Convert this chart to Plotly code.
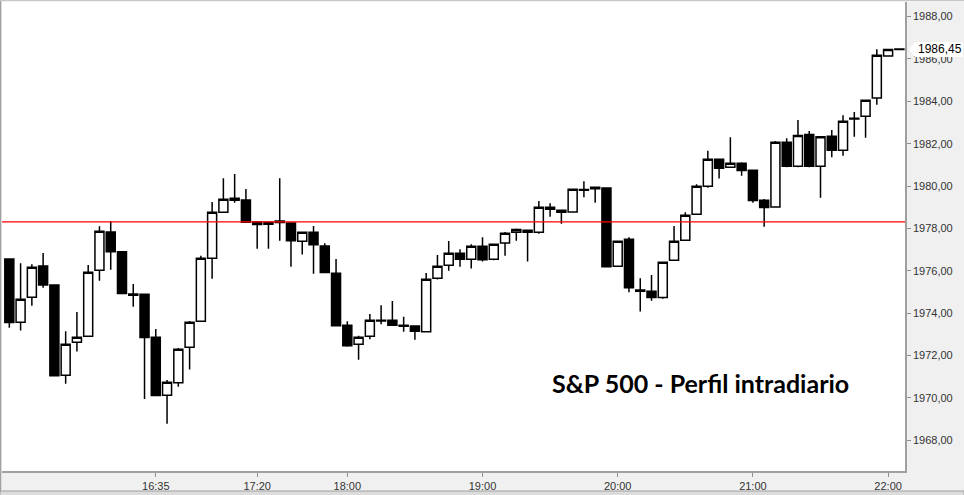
import plotly.graph_objects as go

# ---- data (5-minute bars starting 15:30) ----
start_time = "15:30"
bar_minutes = 5
opens = [1976.55, 1973.56, 1974.75, 1976.22, 1975.33, 1971.06, 1972.62, 1972.90, 1976.02, 1977.83,
         1976.89, 1974.90, 1974.89, 1972.86, 1970.12, 1970.71, 1972.38, 1973.61, 1976.59, 1978.76,
         1979.42, 1979.34, 1978.30, 1978.19, 1978.35, 1978.25, 1977.39, 1977.82, 1977.17, 1975.88,
         1973.42, 1972.53, 1972.90, 1973.66, 1973.66, 1973.42, 1973.39, 1973.12, 1975.64, 1976.26,
         1976.82, 1976.54, 1977.15, 1976.54, 1977.31, 1977.82, 1977.91, 1977.82, 1979.00, 1978.86,
         1978.77, 1979.80, 1979.94, 1979.91, 1976.21, 1977.49, 1975.09, 1975.03, 1974.73, 1976.49,
         1977.44, 1978.67, 1979.99, 1981.26, 1980.89, 1981.07, 1980.74, 1979.33, 1979.01, 1982.07,
         1980.93, 1982.43, 1980.93, 1982.35, 1981.69, 1983.20, 1983.30, 1984.16, 1986.14, 1986.47]
highs = [1976.55, 1976.35, 1976.30, 1976.84, 1975.33, 1973.14, 1974.05, 1976.27, 1978.10, 1978.35,
         1976.93, 1975.37, 1974.89, 1973.25, 1970.84, 1972.35, 1973.63, 1976.70, 1979.25, 1980.37,
         1980.57, 1979.86, 1978.35, 1978.29, 1980.37, 1978.25, 1977.82, 1978.11, 1977.30, 1976.55,
         1973.61, 1972.93, 1973.96, 1974.37, 1974.57, 1973.82, 1973.42, 1975.89, 1976.74, 1977.40,
         1977.01, 1977.25, 1977.58, 1977.25, 1977.83, 1977.99, 1977.91, 1979.29, 1979.19, 1978.86,
         1979.87, 1980.22, 1979.94, 1979.94, 1977.39, 1977.58, 1975.64, 1975.80, 1976.40, 1978.11,
         1978.76, 1980.08, 1981.66, 1981.29, 1982.30, 1981.12, 1980.74, 1979.39, 1982.13, 1982.26,
         1983.12, 1982.60, 1982.33, 1982.65, 1983.34, 1983.50, 1984.05, 1986.46, 1986.45, 1986.47]
lows = [1973.31, 1973.17, 1974.35, 1975.20, 1971.04, 1970.66, 1972.18, 1972.90, 1975.53, 1976.05,
        1974.92, 1974.30, 1969.94, 1970.10, 1968.77, 1970.52, 1971.33, 1973.61, 1975.62, 1978.76,
        1979.21, 1978.29, 1977.04, 1977.04, 1977.42, 1976.19, 1976.76, 1975.86, 1975.91, 1973.36,
        1972.41, 1971.80, 1972.76, 1973.47, 1973.42, 1973.12, 1972.74, 1973.12, 1975.58, 1976.00,
        1976.19, 1976.10, 1976.43, 1976.49, 1976.71, 1977.42, 1976.43, 1977.75, 1978.55, 1978.22,
        1978.77, 1979.47, 1979.21, 1976.19, 1976.21, 1974.98, 1974.07, 1974.58, 1974.68, 1976.49,
        1977.44, 1978.67, 1979.92, 1980.35, 1980.89, 1980.49, 1979.21, 1978.08, 1979.01, 1980.89,
        1980.89, 1980.89, 1979.45, 1981.36, 1981.43, 1982.33, 1982.28, 1983.84, 1986.14, 1986.45]
closes = [1973.55, 1974.65, 1976.16, 1975.33, 1971.04, 1972.53, 1972.86, 1975.93, 1977.86, 1976.90,
          1974.92, 1974.84, 1972.84, 1970.10, 1970.73, 1972.29, 1973.56, 1976.59, 1978.76, 1979.37,
          1979.33, 1978.29, 1978.18, 1978.29, 1978.28, 1977.42, 1977.82, 1977.23, 1975.91, 1973.40,
          1972.46, 1972.86, 1973.66, 1973.62, 1973.42, 1973.38, 1973.14, 1975.60, 1976.21, 1976.82,
          1976.54, 1977.15, 1976.52, 1977.25, 1977.77, 1977.94, 1977.82, 1979.00, 1978.90, 1978.76,
          1979.85, 1979.84, 1979.87, 1976.19, 1977.39, 1975.20, 1975.03, 1974.73, 1976.40, 1977.39,
          1978.62, 1979.99, 1981.26, 1980.84, 1981.07, 1980.73, 1979.31, 1978.98, 1982.07, 1980.93,
          1982.38, 1980.93, 1982.33, 1981.69, 1983.06, 1983.16, 1984.05, 1986.18, 1986.45, 1986.45]
tick_labels = ["16:35", "17:20", "18:00", "19:00", "20:00", "21:00", "22:00"]
y_ticks = [1968, 1970, 1972, 1974, 1976, 1978, 1980, 1982, 1984, 1986, 1988]
ref_level = 1978.31
last_price = 1986.45
title_text = "S&P 500 - Perfil intradiario"


def to_minutes(t):
    h, m = t.split(":")
    return int(h) * 60 + int(m)


x_idx = list(range(len(opens)))
tick_vals = [(to_minutes(t) - to_minutes(start_time)) // bar_minutes for t in tick_labels]

fig = go.Figure()
fig.add_trace(go.Candlestick(
    x=x_idx, open=opens, high=highs, low=lows, close=closes,
    increasing=dict(fillcolor="white", line=dict(color="black", width=1.5)),
    decreasing=dict(fillcolor="black", line=dict(color="black", width=1.5)),
    whiskerwidth=0, hoverinfo="skip", showlegend=False,
))

# reference level
fig.add_shape(type="line", xref="paper", yref="y", x0=0, x1=1, y0=ref_level, y1=ref_level,
              line=dict(color="#ff0000", width=1.2), layer="above")

# plot geometry (px)
W, H = 964, 495
ml, mr, mt, mb = 2, 59, 2, 24
pw = W - ml - mr


def px_to_paper_x(p):
    return (p - ml) / pw


y_lo, y_hi = 1966.54, 1988.69
ph = H - mt - mb


def px_to_y(p):
    return y_hi - (p - mt) / ph * (y_hi - y_lo)


# last price tag
lx0, lx1, lxt = px_to_paper_x(909), px_to_paper_x(963), px_to_paper_x(915)
yt, yb = px_to_y(42), px_to_y(57)
fig.add_shape(type="path", xref="paper", yref="y",
              path=f"M {lx0},{last_price} L {lxt},{yt} L {lx1},{yt} L {lx1},{yb} L {lxt},{yb} Z",
              fillcolor="white", line=dict(width=0), layer="above")
fig.add_annotation(xref="paper", yref="y", x=px_to_paper_x(916), y=last_price, xanchor="left",
                   yanchor="middle", text=f"{last_price:.2f}".replace(".", ","), showarrow=False,
                   font=dict(family="Liberation Sans, Arial", size=12, color="black"))

# title text
fig.add_annotation(xref="paper", yref="y", x=px_to_paper_x(550), y=px_to_y(383), xanchor="left",
                   yanchor="middle", text=title_text, showarrow=False,
                   font=dict(family="Lato", size=25, color="black", weight=700))

# frame lines
fig.add_shape(type="line", xref="paper", yref="paper", x0=px_to_paper_x(0.5), x1=px_to_paper_x(0.5),
              y0=-0.2, y1=1.1, line=dict(color="#a0a0a0", width=1.5), layer="above")
fig.add_shape(type="line", xref="paper", yref="paper", x0=px_to_paper_x(0), x1=px_to_paper_x(964),
              y0=1 + 1.5 / ph, y1=1 + 1.5 / ph, line=dict(color="#c8c8c8", width=1), layer="above")
fig.add_shape(type="rect", xref="paper", yref="paper", x0=px_to_paper_x(0), x1=px_to_paper_x(964),
              y0=-(491 - (H - mb)) / ph, y1=-(496 - (H - mb)) / ph,
              fillcolor="#dcdcdc", line=dict(color="#a0a0a0", width=1), layer="above")

fig.update_layout(
    width=W, height=H,
    margin=dict(l=ml, r=mr, t=mt, b=mb, pad=0),
    paper_bgcolor="#f0f0f0", plot_bgcolor="white",
    separators=",.",
    boxgap=0.2, boxgroupgap=0,
    showlegend=False,
    font=dict(family="Liberation Sans, Arial", size=11, color="#333333"),
    xaxis=dict(range=[-0.65, 79.5], tickvals=tick_vals, ticktext=tick_labels,
               showgrid=False, zeroline=False, rangeslider=dict(visible=False),
               ticks="outside", ticklen=4, tickcolor="#909090",
               showline=True, linecolor="#a0a0a0", linewidth=1.5,
               tickfont=dict(size=11, color="#333333")),
    yaxis=dict(range=[y_lo, y_hi], side="right", tickvals=y_ticks, tickformat=".2f",
               showgrid=False, zeroline=False, ticks="outside", ticklen=4, tickcolor="#909090",
               showline=True, linecolor="#a0a0a0", linewidth=1.5,
               tickfont=dict(size=11, color="#333333")),
)

fig.write_html("out.html")
